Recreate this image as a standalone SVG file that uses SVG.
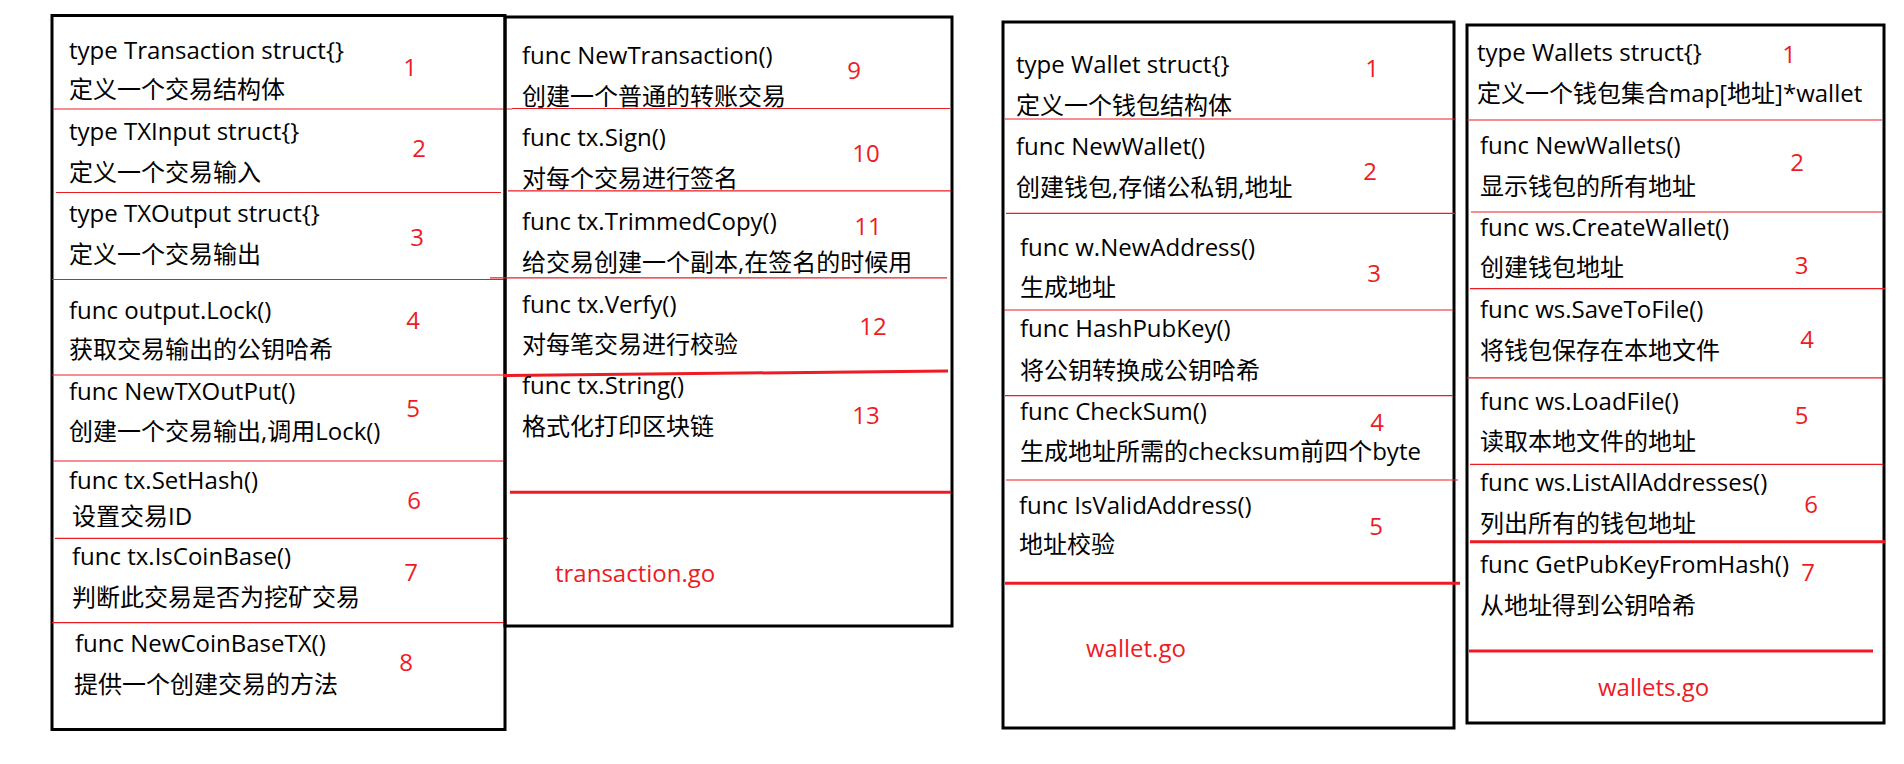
<svg xmlns="http://www.w3.org/2000/svg" width="1904" height="764" viewBox="0 0 1904 764">
<style>
.bg{fill:#fff}
.box{fill:none;stroke:#000;stroke-width:3}
.sep{stroke:#ed1c24;stroke-width:1.2;fill:none}
.sepb{stroke:#ed1c24;stroke-width:3;fill:none}
.t{font-family:"Open Sans","Noto Sans CJK SC",sans-serif;font-size:24px;fill:#000}
.n{font-family:"Open Sans","Noto Sans CJK SC",sans-serif;font-size:24px;fill:#ed1c24;text-anchor:middle}
.f{font-family:"Open Sans","Noto Sans CJK SC",sans-serif;font-size:24px;fill:#ed1c24}
</style>
<rect class="bg" x="0" y="0" width="1904" height="764"/>

<g id="transaction-left">
<rect class="box" x="52" y="15.5" width="453" height="714"/>
<line class="sep" x1="53" y1="109" x2="512" y2="109"/>
<line class="sep" x1="56" y1="192.5" x2="501" y2="192.5"/>
<line class="sep" x1="52" y1="279.5" x2="507" y2="279.5"/>
<line class="sep" x1="52" y1="375" x2="505" y2="375"/>
<line class="sep" x1="53" y1="461" x2="507" y2="461"/>
<line class="sep" x1="55" y1="538.3" x2="508" y2="538.3"/>
<line class="sep" x1="52" y1="622.7" x2="507" y2="622.7"/>
<text class="t" x="69" y="58.5">type Transaction struct{}</text>
<text class="t" x="69" y="97.5">定义一个交易结构体</text>
<text class="n" x="410" y="76">1</text>
<text class="t" x="69" y="140">type TXInput struct{}</text>
<text class="t" x="69" y="180.5">定义一个交易输入</text>
<text class="n" x="419" y="156.5">2</text>
<text class="t" x="69" y="221.5">type TXOutput struct{}</text>
<text class="t" x="69" y="262.5">定义一个交易输出</text>
<text class="n" x="417" y="246">3</text>
<text class="t" x="69" y="318.5">func output.Lock()</text>
<text class="t" x="69" y="357.5">获取交易输出的公钥哈希</text>
<text class="n" x="413" y="328.5">4</text>
<text class="t" x="69" y="400">func NewTXOutPut()</text>
<text class="t" x="69" y="440">创建一个交易输出,调用Lock()</text>
<text class="n" x="413" y="416.5">5</text>
<text class="t" x="69" y="488.5">func tx.SetHash()</text>
<text class="t" x="72" y="524.5">设置交易ID</text>
<text class="n" x="414" y="508.5">6</text>
<text class="t" x="72" y="565">func tx.IsCoinBase()</text>
<text class="t" x="72" y="605.5">判断此交易是否为挖矿交易</text>
<text class="n" x="411" y="580.5">7</text>
<text class="t" x="75" y="651.5">func NewCoinBaseTX()</text>
<text class="t" x="74" y="692.5">提供一个创建交易的方法</text>
<text class="n" x="406" y="671">8</text>
</g>

<g id="transaction-right">
<rect class="box" x="505" y="17" width="447" height="609"/>
<line class="sep" x1="512" y1="108.5" x2="950" y2="108.5"/>
<line class="sep" x1="508" y1="190.8" x2="951" y2="190.8"/>
<line class="sep" x1="490" y1="277.8" x2="947" y2="277.8"/>
<line class="sepb" x1="503" y1="375.5" x2="948" y2="371"/>
<line class="sepb" x1="510" y1="492.3" x2="951" y2="492.3"/>
<text class="t" x="522" y="63.5">func NewTransaction()</text>
<text class="t" x="522" y="104.5">创建一个普通的转账交易</text>
<text class="n" x="854" y="78.5">9</text>
<text class="t" x="522" y="145.5">func tx.Sign()</text>
<text class="t" x="522" y="186.5">对每个交易进行签名</text>
<text class="n" x="866" y="161.5">10</text>
<text class="t" x="522" y="230">func tx.TrimmedCopy()</text>
<text class="t" x="522" y="270.5">给交易创建一个副本,在签名的时候用</text>
<text class="n" x="868" y="235">11</text>
<text class="t" x="522" y="312.5">func tx.Verfy()</text>
<text class="t" x="522" y="352.5">对每笔交易进行校验</text>
<text class="n" x="873" y="335">12</text>
<text class="t" x="522" y="394">func tx.String()</text>
<text class="t" x="522" y="434.5">格式化打印区块链</text>
<text class="n" x="866" y="424">13</text>
<text class="f" x="555" y="581.5">transaction.go</text>
</g>

<g id="wallet">
<rect class="box" x="1003" y="22" width="451" height="706"/>
<line class="sep" x1="1005" y1="119" x2="1456" y2="119"/>
<line class="sep" x1="1006" y1="213.3" x2="1456" y2="213.3"/>
<line class="sep" x1="1004" y1="310" x2="1453" y2="310"/>
<line class="sep" x1="1005" y1="395.7" x2="1453" y2="395.7"/>
<line class="sep" x1="1006" y1="480" x2="1458" y2="480"/>
<line class="sepb" x1="1005" y1="583.3" x2="1460" y2="583.3"/>
<text class="t" x="1016" y="72.5">type Wallet struct{}</text>
<text class="t" x="1016" y="113.5">定义一个钱包结构体</text>
<text class="n" x="1372" y="76.5">1</text>
<text class="t" x="1016" y="155">func NewWallet()</text>
<text class="t" x="1016" y="195.5">创建钱包,存储公私钥,地址</text>
<text class="n" x="1370" y="180">2</text>
<text class="t" x="1020" y="256">func w.NewAddress()</text>
<text class="t" x="1020" y="295.5">生成地址</text>
<text class="n" x="1374" y="281.5">3</text>
<text class="t" x="1020" y="336.5">func HashPubKey()</text>
<text class="t" x="1020" y="378.5">将公钥转换成公钥哈希</text>
<text class="t" x="1020" y="420">func CheckSum()</text>
<text class="t" x="1020" y="460">生成地址所需的checksum前四个byte</text>
<text class="n" x="1377" y="431">4</text>
<text class="t" x="1019" y="513.5">func IsValidAddress()</text>
<text class="t" x="1019" y="553">地址校验</text>
<text class="n" x="1376" y="534.5">5</text>
<text class="f" x="1086" y="656.5">wallet.go</text>
</g>

<g id="wallets">
<rect class="box" x="1467" y="25" width="417" height="698"/>
<line class="sep" x1="1467" y1="120" x2="1882" y2="120"/>
<line class="sep" x1="1471" y1="212" x2="1882" y2="212"/>
<line class="sep" x1="1470" y1="288.7" x2="1885" y2="288.7"/>
<line class="sep" x1="1467" y1="377.8" x2="1883" y2="377.8"/>
<line class="sep" x1="1470" y1="464.3" x2="1883" y2="464.3"/>
<line class="sepb" x1="1470" y1="541.7" x2="1885" y2="541.7"/>
<line class="sepb" x1="1469" y1="651" x2="1873" y2="651"/>
<text class="t" x="1477" y="61">type Wallets struct{}</text>
<text class="t" x="1477" y="101.5">定义一个钱包集合map[地址]*wallet</text>
<text class="n" x="1789" y="62.5">1</text>
<text class="t" x="1480" y="154">func NewWallets()</text>
<text class="t" x="1480" y="194.5">显示钱包的所有地址</text>
<text class="n" x="1797" y="170.5">2</text>
<text class="t" x="1480" y="236">func ws.CreateWallet()</text>
<text class="t" x="1480" y="275.5">创建钱包地址</text>
<text class="n" x="1801.5" y="273.5">3</text>
<text class="t" x="1480" y="317.5">func ws.SaveToFile()</text>
<text class="t" x="1480" y="358.5">将钱包保存在本地文件</text>
<text class="n" x="1807" y="347.5">4</text>
<text class="t" x="1480" y="409.5">func ws.LoadFile()</text>
<text class="t" x="1480" y="449.5">读取本地文件的地址</text>
<text class="n" x="1801.5" y="423.5">5</text>
<text class="t" x="1480" y="490.5">func ws.ListAllAddresses()</text>
<text class="t" x="1480" y="531.5">列出所有的钱包地址</text>
<text class="n" x="1811" y="512.5">6</text>
<text class="t" x="1480" y="572.5">func GetPubKeyFromHash()</text>
<text class="t" x="1480" y="613.5">从地址得到公钥哈希</text>
<text class="n" x="1808" y="581">7</text>
<text class="f" x="1598" y="696">wallets.go</text>
</g>
</svg>
